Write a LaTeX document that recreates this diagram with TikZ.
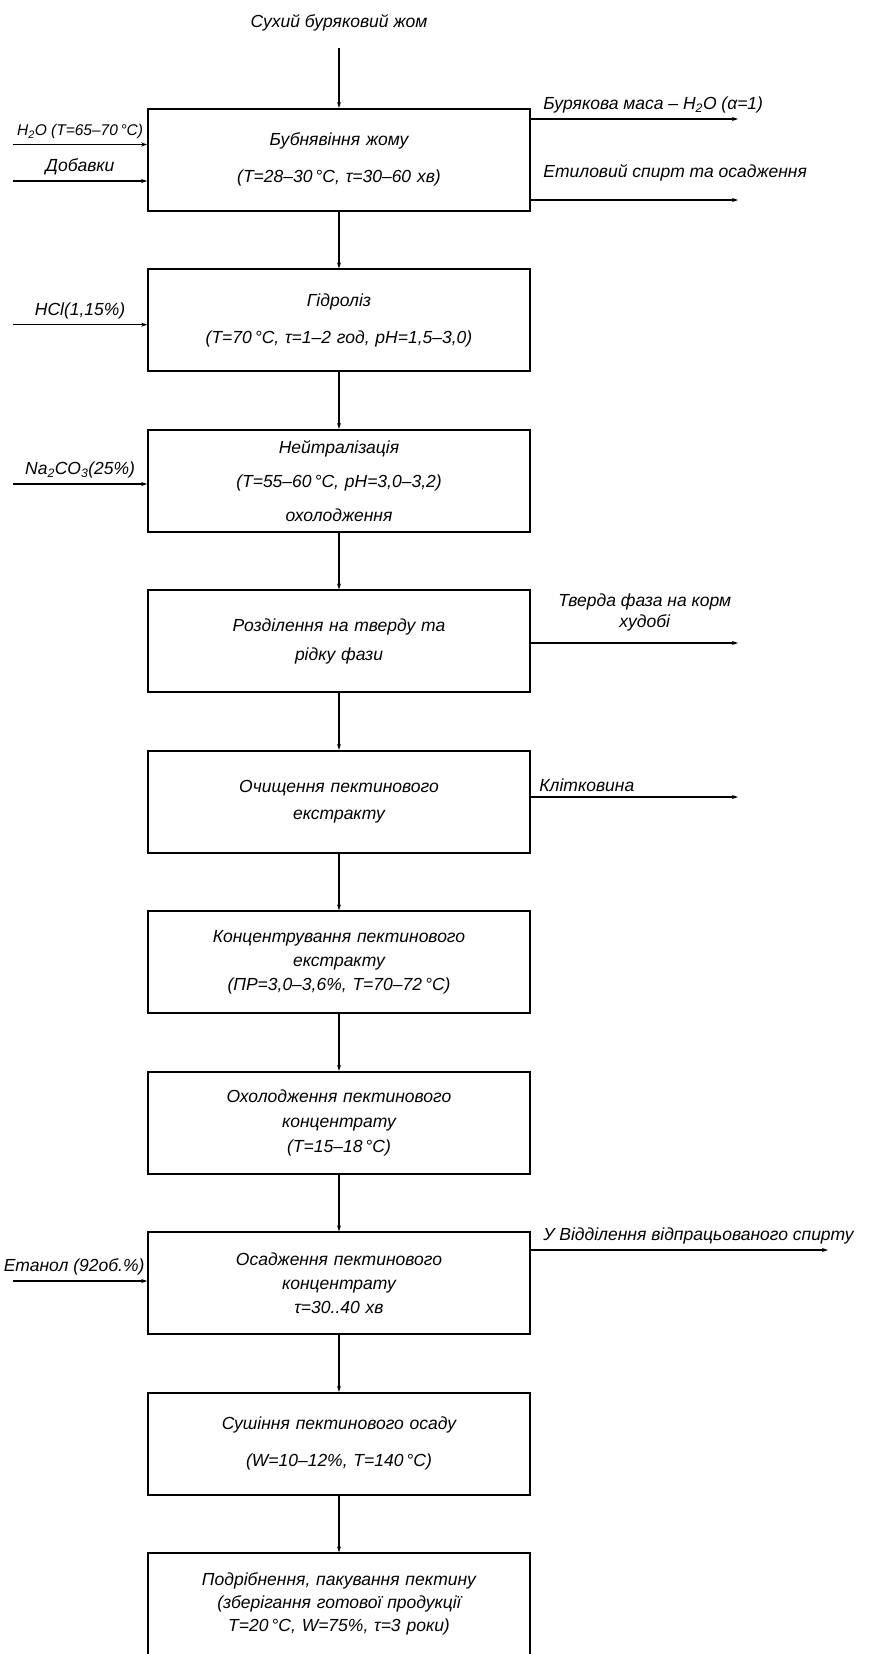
\documentclass[tikz,border=0pt]{standalone}
\usepackage{fontspec}
\setmainfont{Liberation Sans}
\usetikzlibrary{positioning,arrows.meta}

\tikzstyle{stage} = [rectangle, minimum width=382pt, minimum height=102pt, text width=370pt, text centered, draw=black, line width=1.6pt]
\tikzstyle{lbl} = [inner sep=2pt, align=center]

\begin{document}
\begin{tikzpicture}[->,>={Stealth[length=6pt,width=4pt]},x=1pt,y=-1pt,node distance=160.5pt,line width=1.2pt,font=\fontsize{17.5}{21}\selectfont\itshape]
\useasboundingbox (0,0) rectangle (874,1654);

\node[lbl] (pulp) at (339,23) {Сухий буряковий жом};

\node[stage] (swell) at (339,159.7) {Бубнявіння жому\\[16pt](Т=28--30\,°С, τ=30--60 хв)};
\node[stage] (hydro) [below of=swell] {Гідроліз\\[16pt](Т=70\,°С, τ=1--2 год, pH=1,5--3,0)};
\node[stage] (neutr) [below of=hydro] {Нейтралізація\\[13pt](Т=55--60\,°С, pH=3,0--3,2)\\[13pt]охолодження};
\node[stage] (split) [below of=neutr] {Розділення на тверду та\\[8pt]рідку фази};
\node[stage] (clean) [below of=split] {Очищення пектинового\\[6pt]екстракту};
\node[stage] (conc) [below of=clean] {Концентрування пектинового\\[3pt]екстракту\\[3pt](ПР=3,0--3,6\%, Т=70--72\,°С)};
\node[stage] (cool) [below of=conc] {Охолодження пектинового\\[4pt]концентрату\\[4pt](Т=15--18\,°С)};
\node[stage] (precip) [below of=cool] {Осадження пектинового\\[3pt]концентрату\\[3pt]τ=30..40 хв};
\node[stage] (dry) [below of=precip] {Сушіння пектинового осаду\\[16pt](W=10--12\%, Т=140\,°С)};
\node[stage] (pack) [below of=dry] {Подрібнення, пакування пектину\\[2pt](зберігання готової продукції\\[2pt]Т=20\,°С, W=75\%, τ=3 роки)};

% main flow
\draw[shorten <=14pt] (pulp) -- (swell);
\draw (swell) -- (hydro);
\draw (hydro) -- (neutr);
\draw (neutr) -- (split);
\draw (split) -- (clean);
\draw (clean) -- (conc);
\draw (conc) -- (cool);
\draw (cool) -- (precip);
\draw (precip) -- (dry);
\draw (dry) -- (pack);

% inputs
\coordinate (waterin) at (13,144.5);
\coordinate (addin) at (13,181);
\coordinate (hclin) at (13,324.7);
\coordinate (sodain) at (13,484);
\coordinate (ethin) at (13,1281);

\draw (waterin) -- (waterin -| swell.west)
  node[lbl, pos=0.5, above=3pt, font=\fontsize{15.5}{18}\selectfont\itshape] {H\textsubscript{2}O (Т=65--70\,°С)};
\draw (addin) -- (addin -| swell.west)
  node[lbl, pos=0.5, above=3pt] {Добавки};
\draw (hclin) -- (hclin -| hydro.west)
  node[lbl, pos=0.5, above=3pt] {HCl(1,15\%)};
\draw (sodain) -- (sodain -| neutr.west)
  node[lbl, pos=0.5, above=3pt] {Na\textsubscript{2}CO\textsubscript{3}(25\%)};
\draw (ethin) -- (ethin -| precip.west)
  node[lbl, pos=0.5, above=3pt, xshift=-6pt] {Етанол (92об.\%)};

% outputs
\coordinate (massout) at (738,119);
\coordinate (spiritout) at (738,200);
\coordinate (solidout) at (738,643);
\coordinate (fibreout) at (738,797);
\coordinate (wasteout) at (828,1250);

\draw (massout -| swell.east) -- (massout)
  node[lbl, pos=0, above right=3pt and 10pt] {Бурякова маса -- H\textsubscript{2}O (α=1)};
\draw (spiritout -| swell.east) -- (spiritout)
  node[lbl, pos=0, above right=16pt and 10pt] {Етиловий спирт та осадження};
\draw (solidout -| split.east) -- (solidout)
  node[lbl, pos=0.55, above=9pt] {Тверда фаза на корм\\худобі};
\draw (fibreout -| clean.east) -- (fibreout)
  node[lbl, pos=0, above right=3pt and 6pt] {Клітковина};
\draw (wasteout -| precip.east) -- (wasteout)
  node[lbl, pos=0, above right=3pt and 10pt] {У Відділення відпрацьованого спирту};

\end{tikzpicture}
\end{document}
